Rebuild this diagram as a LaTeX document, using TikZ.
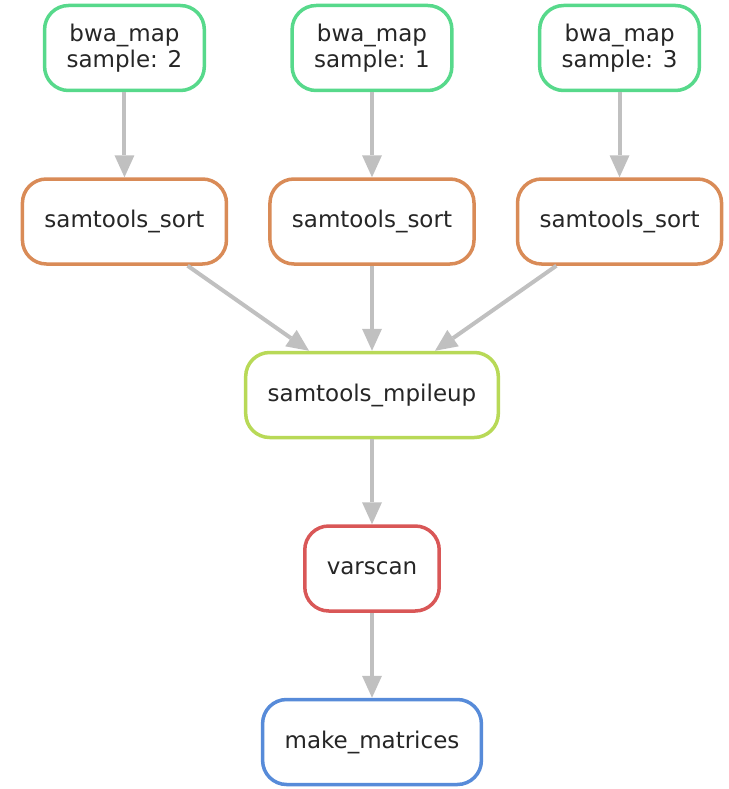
\documentclass[tikz,border=0pt]{standalone}
\usepackage{fontspec}
\setmainfont{DejaVu Sans}
\usetikzlibrary{arrows.meta,positioning}

\definecolor{rulered}{RGB}{217,87,87}
\definecolor{ruleorange}{RGB}{217,139,87}
\definecolor{rulelime}{RGB}{184,217,87}
\definecolor{rulegreen}{RGB}{87,217,139}
\definecolor{ruleblue}{RGB}{87,139,217}
\definecolor{edgegray}{RGB}{192,192,192}

\begin{document}
\begin{tikzpicture}[
    node distance=85pt,
    rule/.style={draw, line width=3.5pt, rounded corners=24pt, fill=white,
      minimum height=85pt, inner xsep=22pt, align=center,
      font=\fontsize{23}{26}\selectfont, text=black!85},
    flow/.style={color=edgegray, line width=4pt,
      -{Triangle[length=22pt,width=20pt,line width=0pt]}}]
    \useasboundingbox (0,0) rectangle (728pt,-789pt);

    \node[rule,draw=rulegreen] (bwa1) at (372pt,-48pt) {bwa\_map\\sample: 1};
    \node[rule,draw=ruleorange] (sort1) [below=of bwa1] {samtools\_sort};
    \node[rule,draw=ruleorange] (sort2) [left=40pt of sort1] {samtools\_sort};
    \node[rule,draw=ruleorange] (sort3) [right=40pt of sort1] {samtools\_sort};
    \node[rule,draw=rulegreen] (bwa2) [above=of sort2] {bwa\_map\\sample: 2};
    \node[rule,draw=rulegreen] (bwa3) [above=of sort3] {bwa\_map\\sample: 3};
    \node[rule,draw=rulelime] (mpileup) [below=of sort1] {samtools\_mpileup};
    \node[rule,draw=rulered] (varscan) [below=of mpileup] {varscan};
    \node[rule,draw=ruleblue] (matrices) [below=of varscan] {make\_matrices};

    \path[flow]
    (bwa1) edge (sort1)
    (bwa2) edge (sort2)
    (bwa3) edge (sort3)
    (sort1) edge (mpileup)
    (sort2) edge (mpileup)
    (sort3) edge (mpileup)
    (mpileup) edge (varscan)
    (varscan) edge (matrices)
    ;
\end{tikzpicture}
\end{document}
